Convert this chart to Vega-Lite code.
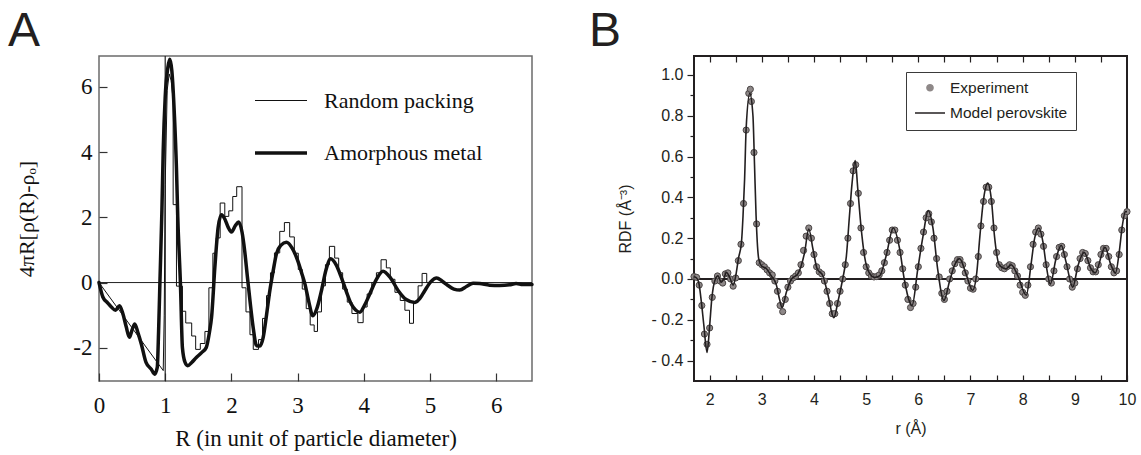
{
 "$schema": "https://vega.github.io/schema/vega-lite/v6.json",
 "background": "white",
 "padding": {"left": 7, "top": 7, "right": 0, "bottom": 0},
 "autosize": {"type": "pad"},
 "bounds": "flush",
 "spacing": 162,
 "resolve": {"scale": {"color": "independent", "shape": "independent", "size": "independent", "strokeWidth": "independent"}, "legend": {"color": "independent", "shape": "independent", "size": "independent", "strokeWidth": "independent"}},
 "datasets": {
  "amorph": [
   {"R":0,"v":0},{"R":0.06,"v":-0.45},{"R":0.13,"v":-0.62},{"R":0.19,"v":-0.76},{"R":0.25,"v":-0.85},{"R":0.31,"v":-0.71},{"R":0.36,"v":-0.95},{"R":0.41,"v":-1.35},{"R":0.46,"v":-1.68},{"R":0.5,"v":-1.45},{"R":0.54,"v":-1.27},{"R":0.59,"v":-1.55},{"R":0.64,"v":-1.89},{"R":0.71,"v":-2.45},{"R":0.79,"v":-2.66},{"R":0.84,"v":-2.81},{"R":0.88,"v":-2.6},{"R":0.9,"v":-1.5},{"R":0.92,"v":0},{"R":0.95,"v":2.2},{"R":0.97,"v":4.06},{"R":1.0,"v":5.7},{"R":1.04,"v":6.6},{"R":1.07,"v":6.85},{"R":1.1,"v":6.5},{"R":1.14,"v":5.09},{"R":1.17,"v":3.5},{"R":1.19,"v":2.0},{"R":1.23,"v":-0.04},{"R":1.26,"v":-2.0},{"R":1.3,"v":-2.45},{"R":1.34,"v":-2.55},{"R":1.4,"v":-2.45},{"R":1.47,"v":-2.3},{"R":1.55,"v":-2.15},{"R":1.62,"v":-1.99},{"R":1.67,"v":-1.5},{"R":1.7,"v":-1.07},{"R":1.75,"v":0.47},{"R":1.8,"v":1.7},{"R":1.85,"v":2.08},{"R":1.9,"v":1.95},{"R":1.95,"v":1.7},{"R":2.0,"v":1.55},{"R":2.06,"v":1.75},{"R":2.11,"v":1.86},{"R":2.16,"v":1.55},{"R":2.2,"v":0.98},{"R":2.24,"v":0.2},{"R":2.28,"v":-0.55},{"R":2.33,"v":-1.4},{"R":2.38,"v":-1.94},{"R":2.43,"v":-1.95},{"R":2.48,"v":-1.68},{"R":2.53,"v":-1.0},{"R":2.58,"v":-0.25},{"R":2.63,"v":0.35},{"R":2.68,"v":0.88},{"R":2.75,"v":1.15},{"R":2.83,"v":1.24},{"R":2.92,"v":1.05},{"R":3.0,"v":0.68},{"R":3.06,"v":0.3},{"R":3.11,"v":-0.04},{"R":3.17,"v":-0.6},{"R":3.23,"v":-1.02},{"R":3.29,"v":-0.8},{"R":3.36,"v":-0.25},{"R":3.43,"v":0.4},{"R":3.5,"v":0.73},{"R":3.58,"v":0.55},{"R":3.66,"v":0.16},{"R":3.74,"v":-0.3},{"R":3.81,"v":-0.66},{"R":3.88,"v":-0.85},{"R":3.94,"v":-0.91},{"R":4.01,"v":-0.7},{"R":4.09,"v":-0.35},{"R":4.19,"v":0.1},{"R":4.29,"v":0.35},{"R":4.4,"v":0.15},{"R":4.52,"v":-0.25},{"R":4.64,"v":-0.52},{"R":4.77,"v":-0.61},{"R":4.85,"v":-0.48},{"R":4.92,"v":-0.25},{"R":5.01,"v":0.02},{"R":5.1,"v":0.14},{"R":5.18,"v":0.05},{"R":5.27,"v":-0.09},{"R":5.36,"v":-0.2},{"R":5.45,"v":-0.23},{"R":5.55,"v":-0.12},{"R":5.65,"v":-0.02},{"R":5.75,"v":-0.03},{"R":5.9,"v":-0.08},{"R":6.05,"v":-0.09},{"R":6.2,"v":-0.07},{"R":6.3,"v":-0.03},{"R":6.4,"v":-0.06},{"R":6.54,"v":-0.06}
  ],
  "random": [
   {"i":1,"R":0,"v":0},{"i":2,"R":0.97,"v":-2.7},{"i":3,"R":0.985,"v":-1.0},{"i":4,"R":1.0,"v":3.0},{"i":5,"R":1.03,"v":5.9},{"i":6,"R":1.06,"v":6.4},{"i":7,"R":1.09,"v":6.2},{"i":8,"R":1.12,"v":5.6},{"i":9,"R":1.12,"v":2.39},{"i":10,"R":1.17,"v":2.39},{"i":11,"R":1.17,"v":-0.11},{"i":12,"R":1.26,"v":-0.11},{"i":13,"R":1.26,"v":-0.88},{"i":14,"R":1.31,"v":-0.88},{"i":15,"R":1.31,"v":-1.24},{"i":16,"R":1.4,"v":-1.24},{"i":17,"R":1.4,"v":-1.64},{"i":18,"R":1.46,"v":-1.64},{"i":19,"R":1.46,"v":-2.05},{"i":20,"R":1.53,"v":-2.05},{"i":21,"R":1.53,"v":-1.87},{"i":22,"R":1.6,"v":-1.87},{"i":23,"R":1.6,"v":-1.5},{"i":24,"R":1.66,"v":-1.5},{"i":25,"R":1.66,"v":-0.16},{"i":26,"R":1.72,"v":-0.16},{"i":27,"R":1.72,"v":0.9},{"i":28,"R":1.77,"v":0.9},{"i":29,"R":1.77,"v":1.37},{"i":30,"R":1.83,"v":1.37},{"i":31,"R":1.83,"v":2.44},{"i":32,"R":1.9,"v":2.44},{"i":33,"R":1.9,"v":2.03},{"i":34,"R":1.96,"v":2.03},{"i":35,"R":1.96,"v":2.2},{"i":36,"R":2.02,"v":2.2},{"i":37,"R":2.02,"v":2.64},{"i":38,"R":2.08,"v":2.64},{"i":39,"R":2.08,"v":2.94},{"i":40,"R":2.16,"v":2.94},{"i":41,"R":2.16,"v":-0.16},{"i":42,"R":2.22,"v":-0.16},{"i":43,"R":2.22,"v":-0.9},{"i":44,"R":2.28,"v":-0.9},{"i":45,"R":2.28,"v":-1.6},{"i":46,"R":2.33,"v":-1.6},{"i":47,"R":2.33,"v":-2.05},{"i":48,"R":2.41,"v":-2.05},{"i":49,"R":2.41,"v":-1.75},{"i":50,"R":2.47,"v":-1.75},{"i":51,"R":2.47,"v":-1.1},{"i":52,"R":2.53,"v":-1.1},{"i":53,"R":2.53,"v":-0.4},{"i":54,"R":2.59,"v":-0.4},{"i":55,"R":2.59,"v":0.3},{"i":56,"R":2.65,"v":0.3},{"i":57,"R":2.65,"v":0.91},{"i":58,"R":2.73,"v":0.91},{"i":59,"R":2.73,"v":1.57},{"i":60,"R":2.8,"v":1.57},{"i":61,"R":2.8,"v":1.84},{"i":62,"R":2.88,"v":1.84},{"i":63,"R":2.88,"v":1.4},{"i":64,"R":2.95,"v":1.4},{"i":65,"R":2.95,"v":0.9},{"i":66,"R":3.01,"v":0.9},{"i":67,"R":3.01,"v":0.4},{"i":68,"R":3.07,"v":0.4},{"i":69,"R":3.07,"v":-0.2},{"i":70,"R":3.13,"v":-0.2},{"i":71,"R":3.13,"v":-0.8},{"i":72,"R":3.19,"v":-0.8},{"i":73,"R":3.19,"v":-1.3},{"i":74,"R":3.25,"v":-1.3},{"i":75,"R":3.25,"v":-1.5},{"i":76,"R":3.3,"v":-1.5},{"i":77,"R":3.3,"v":-0.9},{"i":78,"R":3.36,"v":-0.9},{"i":79,"R":3.36,"v":-0.1},{"i":80,"R":3.42,"v":-0.1},{"i":81,"R":3.42,"v":0.55},{"i":82,"R":3.48,"v":0.55},{"i":83,"R":3.48,"v":1.11},{"i":84,"R":3.56,"v":1.11},{"i":85,"R":3.56,"v":0.75},{"i":86,"R":3.62,"v":0.75},{"i":87,"R":3.62,"v":0.3},{"i":88,"R":3.68,"v":0.3},{"i":89,"R":3.68,"v":-0.2},{"i":90,"R":3.75,"v":-0.2},{"i":91,"R":3.75,"v":-0.6},{"i":92,"R":3.82,"v":-0.6},{"i":93,"R":3.82,"v":-0.95},{"i":94,"R":3.91,"v":-0.95},{"i":95,"R":3.91,"v":-1.23},{"i":96,"R":3.99,"v":-1.23},{"i":97,"R":3.99,"v":-0.75},{"i":98,"R":4.05,"v":-0.75},{"i":99,"R":4.05,"v":-0.35},{"i":100,"R":4.12,"v":-0.35},{"i":101,"R":4.12,"v":0.0},{"i":102,"R":4.19,"v":0.0},{"i":103,"R":4.19,"v":0.3},{"i":104,"R":4.26,"v":0.3},{"i":105,"R":4.26,"v":0.7},{"i":106,"R":4.34,"v":0.7},{"i":107,"R":4.34,"v":0.45},{"i":108,"R":4.4,"v":0.45},{"i":109,"R":4.4,"v":0.1},{"i":110,"R":4.47,"v":0.1},{"i":111,"R":4.47,"v":-0.3},{"i":112,"R":4.55,"v":-0.3},{"i":113,"R":4.55,"v":-0.55},{"i":114,"R":4.62,"v":-0.55},{"i":115,"R":4.62,"v":-0.85},{"i":116,"R":4.69,"v":-0.85},{"i":117,"R":4.69,"v":-1.25},{"i":118,"R":4.75,"v":-1.25},{"i":119,"R":4.75,"v":-0.6},{"i":120,"R":4.82,"v":-0.6},{"i":121,"R":4.82,"v":-0.1},{"i":122,"R":4.88,"v":-0.1},{"i":123,"R":4.88,"v":0.28},{"i":124,"R":4.95,"v":0.28},{"i":125,"R":4.95,"v":0.0}
  ],
  "exp": [
   {"r":1.7,"v":0.012},{"r":1.75,"v":0.008},{"r":1.8,"v":-0.03},{"r":1.85,"v":-0.13},{"r":1.9,"v":-0.27},{"r":1.95,"v":-0.32},{"r":2.0,"v":-0.24},{"r":2.05,"v":-0.09},{"r":2.1,"v":-0.01},{"r":2.15,"v":0.015},{"r":2.2,"v":-0.01},{"r":2.25,"v":-0.02},{"r":2.3,"v":0.025},{"r":2.35,"v":0.03},{"r":2.4,"v":0.0},{"r":2.45,"v":-0.035},{"r":2.5,"v":0.005},{"r":2.55,"v":0.09},{"r":2.6,"v":0.17},{"r":2.65,"v":0.37},{"r":2.7,"v":0.73},{"r":2.75,"v":0.91},{"r":2.78,"v":0.93},{"r":2.8,"v":0.87},{"r":2.85,"v":0.62},{"r":2.9,"v":0.27},{"r":2.95,"v":0.08},{"r":3.0,"v":0.07},{"r":3.05,"v":0.06},{"r":3.1,"v":0.045},{"r":3.15,"v":0.03},{"r":3.2,"v":0.02},{"r":3.25,"v":-0.01},{"r":3.3,"v":-0.06},{"r":3.35,"v":-0.13},{"r":3.4,"v":-0.16},{"r":3.45,"v":-0.1},{"r":3.5,"v":-0.04},{"r":3.55,"v":-0.01},{"r":3.6,"v":0.005},{"r":3.65,"v":0.015},{"r":3.7,"v":0.03},{"r":3.75,"v":0.07},{"r":3.8,"v":0.14},{"r":3.85,"v":0.21},{"r":3.9,"v":0.25},{"r":3.95,"v":0.2},{"r":4.0,"v":0.12},{"r":4.05,"v":0.06},{"r":4.1,"v":0.035},{"r":4.15,"v":0.025},{"r":4.2,"v":-0.01},{"r":4.25,"v":-0.06},{"r":4.3,"v":-0.12},{"r":4.35,"v":-0.17},{"r":4.4,"v":-0.17},{"r":4.45,"v":-0.12},{"r":4.5,"v":-0.06},{"r":4.55,"v":0.0},{"r":4.6,"v":0.07},{"r":4.65,"v":0.2},{"r":4.7,"v":0.37},{"r":4.75,"v":0.53},{"r":4.8,"v":0.56},{"r":4.85,"v":0.42},{"r":4.9,"v":0.25},{"r":4.95,"v":0.13},{"r":5.0,"v":0.06},{"r":5.05,"v":0.03},{"r":5.1,"v":0.015},{"r":5.15,"v":0.01},{"r":5.2,"v":0.012},{"r":5.25,"v":0.02},{"r":5.3,"v":0.04},{"r":5.35,"v":0.08},{"r":5.4,"v":0.13},{"r":5.45,"v":0.19},{"r":5.5,"v":0.24},{"r":5.55,"v":0.24},{"r":5.6,"v":0.19},{"r":5.65,"v":0.13},{"r":5.7,"v":0.05},{"r":5.75,"v":-0.03},{"r":5.8,"v":-0.1},{"r":5.85,"v":-0.14},{"r":5.9,"v":-0.12},{"r":5.95,"v":-0.04},{"r":6.0,"v":0.06},{"r":6.05,"v":0.15},{"r":6.1,"v":0.23},{"r":6.15,"v":0.3},{"r":6.2,"v":0.32},{"r":6.25,"v":0.28},{"r":6.3,"v":0.2},{"r":6.35,"v":0.1},{"r":6.4,"v":0.01},{"r":6.45,"v":-0.07},{"r":6.5,"v":-0.1},{"r":6.55,"v":-0.06},{"r":6.6,"v":0.0},{"r":6.65,"v":0.04},{"r":6.7,"v":0.075},{"r":6.75,"v":0.095},{"r":6.8,"v":0.095},{"r":6.85,"v":0.07},{"r":6.9,"v":0.03},{"r":6.95,"v":-0.01},{"r":7.0,"v":-0.045},{"r":7.05,"v":-0.05},{"r":7.1,"v":0.0},{"r":7.15,"v":0.11},{"r":7.2,"v":0.26},{"r":7.25,"v":0.38},{"r":7.3,"v":0.45},{"r":7.35,"v":0.45},{"r":7.4,"v":0.38},{"r":7.45,"v":0.25},{"r":7.5,"v":0.13},{"r":7.55,"v":0.07},{"r":7.6,"v":0.055},{"r":7.65,"v":0.05},{"r":7.7,"v":0.06},{"r":7.75,"v":0.07},{"r":7.8,"v":0.065},{"r":7.85,"v":0.04},{"r":7.9,"v":0.015},{"r":7.95,"v":-0.03},{"r":8.0,"v":-0.065},{"r":8.05,"v":-0.08},{"r":8.1,"v":-0.03},{"r":8.15,"v":0.06},{"r":8.2,"v":0.17},{"r":8.25,"v":0.23},{"r":8.3,"v":0.25},{"r":8.35,"v":0.22},{"r":8.4,"v":0.16},{"r":8.45,"v":0.07},{"r":8.5,"v":0.0},{"r":8.55,"v":-0.02},{"r":8.6,"v":0.04},{"r":8.65,"v":0.11},{"r":8.7,"v":0.155},{"r":8.75,"v":0.16},{"r":8.8,"v":0.12},{"r":8.85,"v":0.06},{"r":8.9,"v":0.0},{"r":8.95,"v":-0.04},{"r":9.0,"v":-0.02},{"r":9.05,"v":0.05},{"r":9.1,"v":0.1},{"r":9.15,"v":0.13},{"r":9.2,"v":0.125},{"r":9.25,"v":0.09},{"r":9.3,"v":0.055},{"r":9.35,"v":0.035},{"r":9.4,"v":0.035},{"r":9.45,"v":0.07},{"r":9.5,"v":0.12},{"r":9.55,"v":0.15},{"r":9.6,"v":0.15},{"r":9.65,"v":0.11},{"r":9.7,"v":0.06},{"r":9.75,"v":0.03},{"r":9.8,"v":0.04},{"r":9.85,"v":0.12},{"r":9.9,"v":0.24},{"r":9.95,"v":0.31},{"r":10.0,"v":0.33}
  ],
  "model": [
   {"r":1.7,"v":0.011},{"r":1.75,"v":0.005},{"r":1.79,"v":-0.016},{"r":1.84,"v":-0.11},{"r":1.89,"v":-0.23},{"r":1.95,"v":-0.36},{"r":2.0,"v":-0.23},{"r":2.04,"v":-0.1},{"r":2.11,"v":0.0},{"r":2.16,"v":0.016},{"r":2.22,"v":-0.016},{"r":2.27,"v":0.0},{"r":2.32,"v":0.033},{"r":2.38,"v":0.01},{"r":2.45,"v":-0.03},{"r":2.51,"v":0.03},{"r":2.55,"v":0.098},{"r":2.61,"v":0.18},{"r":2.64,"v":0.31},{"r":2.67,"v":0.49},{"r":2.7,"v":0.74},{"r":2.77,"v":0.91},{"r":2.83,"v":0.8},{"r":2.86,"v":0.56},{"r":2.89,"v":0.31},{"r":2.94,"v":0.1},{"r":2.99,"v":0.065},{"r":3.09,"v":0.05},{"r":3.18,"v":0.016},{"r":3.28,"v":-0.03},{"r":3.34,"v":-0.1},{"r":3.39,"v":-0.14},{"r":3.47,"v":-0.065},{"r":3.57,"v":0.0},{"r":3.69,"v":0.025},{"r":3.82,"v":0.13},{"r":3.9,"v":0.245},{"r":3.98,"v":0.147},{"r":4.06,"v":0.05},{"r":4.17,"v":0.016},{"r":4.27,"v":-0.08},{"r":4.38,"v":-0.19},{"r":4.46,"v":-0.11},{"r":4.55,"v":0.0},{"r":4.62,"v":0.11},{"r":4.68,"v":0.31},{"r":4.73,"v":0.47},{"r":4.79,"v":0.58},{"r":4.84,"v":0.44},{"r":4.9,"v":0.26},{"r":4.97,"v":0.11},{"r":5.06,"v":0.03},{"r":5.16,"v":0.008},{"r":5.26,"v":0.016},{"r":5.38,"v":0.11},{"r":5.52,"v":0.25},{"r":5.64,"v":0.15},{"r":5.73,"v":0.0},{"r":5.83,"v":-0.11},{"r":5.88,"v":-0.13},{"r":5.99,"v":0.05},{"r":6.09,"v":0.21},{"r":6.19,"v":0.335},{"r":6.28,"v":0.25},{"r":6.37,"v":0.05},{"r":6.49,"v":-0.105},{"r":6.6,"v":-0.01},{"r":6.69,"v":0.065},{"r":6.79,"v":0.1},{"r":6.92,"v":0.02},{"r":7.04,"v":-0.055},{"r":7.12,"v":0.03},{"r":7.18,"v":0.21},{"r":7.25,"v":0.39},{"r":7.33,"v":0.47},{"r":7.4,"v":0.39},{"r":7.46,"v":0.21},{"r":7.55,"v":0.07},{"r":7.68,"v":0.05},{"r":7.78,"v":0.07},{"r":7.9,"v":0.02},{"r":8.07,"v":-0.08},{"r":8.16,"v":0.07},{"r":8.23,"v":0.2},{"r":8.31,"v":0.25},{"r":8.39,"v":0.18},{"r":8.45,"v":0.07},{"r":8.53,"v":-0.025},{"r":8.64,"v":0.1},{"r":8.74,"v":0.165},{"r":8.83,"v":0.085},{"r":8.96,"v":-0.04},{"r":9.06,"v":0.065},{"r":9.18,"v":0.13},{"r":9.31,"v":0.05},{"r":9.39,"v":0.03},{"r":9.58,"v":0.155},{"r":9.69,"v":0.07},{"r":9.78,"v":0.03},{"r":9.85,"v":0.13},{"r":9.91,"v":0.26},{"r":9.97,"v":0.33},{"r":10.0,"v":0.33}
  ]
 },
 "hconcat": [
  {
   "width": 433,
   "height": 325,
   "view": {"stroke": "#6b6b6b", "strokeWidth": 1.5},
   "title": {"text": "A", "anchor": "start", "frame": "group", "dx": -91, "offset": -1, "fontSize": 48, "font": "Liberation Sans", "fontWeight": "normal", "color": "#231f20"},
   "layer": [
    {
     "data": {"values": [{}]},
     "mark": {"type": "rule", "color": "#222222", "strokeWidth": 1},
     "encoding": {
      "y": {"datum": 0, "type": "quantitative", "scale": {"domain": [-3.02, 6.95], "nice": false, "zero": false}}
     }
    },
    {
     "data": {"values": [{}]},
     "mark": {"type": "rule", "color": "#222222", "strokeWidth": 1.2},
     "encoding": {
      "x": {"datum": 1, "type": "quantitative", "scale": {"domain": [0, 6.54], "nice": false, "zero": false}}
     }
    },
    {
     "data": {"name": "random"},
     "mark": {"type": "line", "color": "#111111", "interpolate": "linear"},
     "encoding": {
      "x": {"field": "R", "type": "quantitative",
       "axis": {"title": "R (in unit of particle diameter)", "values": [0, 1, 2, 3, 4, 5, 6], "format": "d", "offset": -8, "tickSize": 8, "tickColor": "#333333", "tickWidth": 1.2, "domain": false, "grid": false, "labelFlush": false, "labelOverlap": false, "labelFont": "Liberation Serif", "labelFontSize": 23, "labelColor": "#111111", "labelPadding": 13, "titleFont": "Liberation Serif", "titleFontSize": 23, "titleFontWeight": "normal", "titleColor": "#111111", "titlePadding": 10}},
      "y": {"field": "v", "type": "quantitative",
       "axis": {"title": "4πR[ρ(R)-ρₒ]", "values": [-2, 0, 2, 4, 6], "labelExpr": "datum.value < 0 ? '-' + abs(datum.value) : '' + datum.value", "offset": -8, "tickSize": 8, "tickColor": "#333333", "tickWidth": 1.2, "domain": false, "grid": false, "labelFont": "Liberation Serif", "labelFontSize": 23, "labelColor": "#111111", "labelPadding": 7, "titleFont": "Liberation Serif", "titleFontSize": 22, "titleFontWeight": "normal", "titleColor": "#111111", "titlePadding": 34}},
      "order": {"field": "i", "type": "quantitative"},
      "strokeWidth": {"datum": "Random packing", "type": "nominal", "scale": {"domain": ["Random packing", "Amorphous metal"], "range": [1, 3.5], "padding": 0},
       "legend": {"title": null, "orient": "none", "legendX": 154, "legendY": 18, "symbolType": "stroke", "symbolSize": 2704, "symbolStrokeColor": "#111111", "labelFont": "Liberation Serif", "labelFontSize": 22, "labelColor": "#111111", "labelOffset": 15, "rowPadding": 13, "padding": 0}}
     }
    },
    {
     "data": {"name": "amorph"},
     "mark": {"type": "line", "color": "#111111", "interpolate": "monotone", "strokeCap": "round", "strokeJoin": "round"},
     "encoding": {
      "x": {"field": "R", "type": "quantitative"},
      "y": {"field": "v", "type": "quantitative"},
      "strokeWidth": {"datum": "Amorphous metal", "type": "nominal"}
     }
    }
   ]
  },
  {
   "width": 433,
   "height": 325,
   "view": {"stroke": "#231f20", "strokeWidth": 2},
   "title": {"text": "B", "anchor": "start", "frame": "group", "dx": -105, "offset": -1, "fontSize": 48, "font": "Liberation Sans", "fontWeight": "normal", "color": "#231f20"},
   "resolve": {"axis": {"x": "independent", "y": "independent"}},
   "layer": [
    {
     "data": {"values": [{}]},
     "mark": {"type": "rule", "color": "#231f20", "strokeWidth": 2.2},
     "encoding": {
      "y": {"datum": 0, "type": "quantitative", "scale": {"domain": [-0.5, 1.093], "nice": false, "zero": false}, "axis": null}
     }
    },
    {
     "data": {"name": "exp"},
     "mark": {"type": "point", "filled": true, "opacity": 1, "stroke": "#4a4545", "strokeWidth": 1},
     "encoding": {
      "x": {"field": "r", "type": "quantitative", "scale": {"domain": [1.7, 10], "nice": false, "zero": false},
       "axis": {"title": "r (Å)", "values": [2, 2.5, 3, 3.5, 4, 4.5, 5, 5.5, 6, 6.5, 7, 7.5, 8, 8.5, 9, 9.5, 10],
        "labelExpr": "datum.value % 1 === 0 ? '' + datum.value : ''",
        "offset": -6, "tickSize": 6,
        "tickColor": "#231f20", "tickWidth": 1.2, "domain": false, "grid": false, "labelFlush": false, "labelOverlap": false, "labelFont": "Liberation Sans", "labelFontSize": 16, "labelColor": "#231f20", "labelPadding": 10, "titleFont": "Liberation Sans", "titleFontSize": 16, "titleFontWeight": "normal", "titleColor": "#231f20", "titlePadding": 13}},
      "y": {"field": "v", "type": "quantitative",
       "axis": {"title": "RDF (Å⁻³)", "values": [-0.4, -0.2, 0, 0.2, 0.4, 0.6, 0.8, 1.0],
        "labelExpr": "datum.value < 0 ? '- ' + format(-datum.value, '.1f') : format(datum.value, '.1f')",
        "tickSize": 7,
        "tickColor": "#231f20", "tickWidth": 1.2, "domain": false, "grid": false, "labelFont": "Liberation Sans", "labelFontSize": 16, "labelColor": "#231f20", "labelPadding": 4, "titleFont": "Liberation Sans", "titleFontSize": 16, "titleFontWeight": "normal", "titleColor": "#231f20", "titlePadding": 17}},
      "color": {"datum": "Experiment", "type": "nominal", "scale": {"domain": ["Experiment", "Model perovskite"], "range": ["#8e8888", "#231f20"]},
       "legend": {"title": null, "orient": "none", "legendX": 212, "legendY": 16, "padding": 8, "strokeColor": "#3a3a3a", "fillColor": "white", "labelOffset": 4, "labelFont": "Liberation Sans", "labelFontSize": 15.5, "labelColor": "#231f20", "rowPadding": 0}},
      "shape": {"datum": "Experiment", "type": "nominal", "scale": {"domain": ["Experiment", "Model perovskite"], "range": ["circle", "stroke"]},
       "legend": {"title": null, "orient": "none", "legendX": 212, "legendY": 16, "padding": 8, "strokeColor": "#3a3a3a", "fillColor": "white", "labelOffset": 4, "labelFont": "Liberation Sans", "labelFontSize": 15.5, "labelColor": "#231f20", "rowPadding": 0}},
      "size": {"datum": "Experiment", "type": "nominal", "scale": {"domain": ["Experiment", "Model perovskite"], "range": [38, 900], "padding": 0},
       "legend": {"title": null, "orient": "none", "legendX": 212, "legendY": 16, "padding": 8, "strokeColor": "#3a3a3a", "fillColor": "white", "labelOffset": 4, "labelFont": "Liberation Sans", "labelFontSize": 15.5, "labelColor": "#231f20", "rowPadding": 0}}
     }
    },
    {
     "data": {"name": "model"},
     "mark": {"type": "line", "strokeWidth": 1.6, "interpolate": "monotone"},
     "encoding": {
      "x": {"field": "r", "type": "quantitative",
       "axis": {"orient": "top", "title": null, "labels": false, "values": [2, 2.5, 3, 3.5, 4, 4.5, 5, 5.5, 6, 6.5, 7, 7.5, 8, 8.5, 9, 9.5], "offset": -6, "tickSize": 6, "tickColor": "#231f20", "tickWidth": 1.2, "domain": false, "grid": false}},
      "y": {"field": "v", "type": "quantitative",
       "axis": {"orient": "left", "title": null, "labels": false, "values": [-0.3, -0.1, 0.1, 0.3, 0.5, 0.7, 0.9], "tickSize": 4, "tickColor": "#231f20", "tickWidth": 1.2, "domain": false, "grid": false}},
      "color": {"datum": "Model perovskite", "type": "nominal"}
     }
    }
   ]
  }
 ]
}
